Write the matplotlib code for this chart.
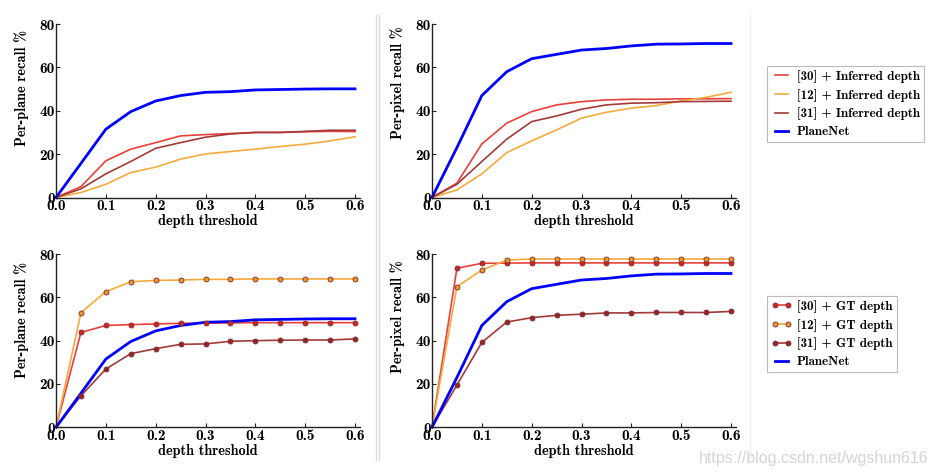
import matplotlib
matplotlib.use("Agg")
import matplotlib.pyplot as plt
from matplotlib.lines import Line2D

# depth thresholds shared by all four panels
thresholds = [0.0, 0.05, 0.1, 0.15, 0.2, 0.25, 0.3, 0.35, 0.4, 0.45, 0.5, 0.55, 0.6]

# per-plane recall, inferred depth
plane_30_inf = [0, 5.0, 16.9, 22.3, 25.3, 28.4, 29.0, 29.5, 30.0, 30.0, 30.3, 30.5, 30.4]
plane_12_inf = [0, 2.3, 6.1, 11.5, 14.0, 17.7, 20.1, 21.2, 22.3, 23.5, 24.6, 26.1, 28.0]
plane_31_inf = [0, 4.0, 10.9, 16.6, 22.7, 25.3, 27.8, 29.3, 30.0, 30.0, 30.5, 31.0, 31.0]
plane_planenet = [0, 15.7, 31.5, 39.6, 44.5, 47.0, 48.5, 48.8, 49.6, 49.8, 50.0, 50.1, 50.1]

# per-pixel recall, inferred depth
pixel_30_inf = [0, 6.6, 24.7, 34.3, 39.6, 42.7, 44.2, 45.0, 45.3, 45.3, 45.5, 45.5, 45.6]
pixel_12_inf = [0, 3.5, 10.9, 20.7, 26.1, 31.2, 36.6, 39.3, 41.2, 42.4, 44.5, 46.2, 48.5]
pixel_31_inf = [0, 6.1, 16.6, 26.9, 35.0, 37.6, 40.7, 42.7, 43.5, 43.7, 44.2, 44.3, 44.4]
pixel_planenet = [0, 23.0, 47.0, 58.0, 64.0, 66.0, 68.0, 68.7, 69.9, 70.7, 70.8, 71.0, 71.0]

# per-plane recall, GT depth
plane_30_gt = [0, 43.8, 47.0, 47.4, 47.7, 48.0, 48.1, 48.2, 48.3, 48.3, 48.3, 48.3, 48.3]
plane_12_gt = [0, 52.9, 62.6, 67.2, 67.8, 68.0, 68.3, 68.3, 68.5, 68.5, 68.5, 68.5, 68.5]
plane_31_gt = [0, 14.5, 26.9, 34.0, 36.3, 38.3, 38.5, 39.7, 40.0, 40.2, 40.3, 40.3, 40.8]

# per-pixel recall, GT depth
pixel_30_gt = [0, 73.4, 75.7, 75.8, 75.9, 75.9, 75.9, 75.9, 75.9, 75.9, 75.9, 75.9, 75.9]
pixel_12_gt = [0, 64.9, 72.6, 77.2, 77.7, 77.7, 77.7, 77.7, 77.7, 77.7, 77.7, 77.7, 77.7]
pixel_31_gt = [0, 19.5, 39.2, 48.6, 50.6, 51.7, 52.2, 52.8, 52.8, 53.0, 53.0, 53.0, 53.5]

RED, RED_M = "#e8403a", "#c62828"
ORANGE, ORANGE_M = "#f5aa3c", "#e09a30"
BROWN, BROWN_M = "#a23a3a", "#8a2a2a"
BLUE = "#0000ff"
FONT = "cmb10"
FS = 10.3

plt.rcParams["font.family"] = FONT
plt.rcParams["axes.unicode_minus"] = False

fig = plt.figure(figsize=(9.31, 4.76), dpi=100)
W, H = 931, 476


def make_ax(left_px, zero_px, top_px, ylabel, label_y):
    width = 304
    ax = fig.add_axes([left_px / W, 1 - zero_px / H, width / W, (zero_px - top_px) / H])
    ax.set_xlim(0, 0.61)
    ax.set_ylim(0, 80)
    ax.set_xticks([0.0, 0.1, 0.2, 0.3, 0.4, 0.5, 0.6])
    ax.set_xticklabels(["0.0", "0.1", "0.2", "0.3", "0.4", "0.5", "0.6"])
    ax.set_yticks([0, 20, 40, 60, 80])
    ax.set_yticklabels(["0", "20", "40", "60", "80"])
    for s in ["top", "right"]:
        ax.spines[s].set_visible(False)
    for s in ["left", "bottom"]:
        ax.spines[s].set_color("#222222")
        ax.spines[s].set_linewidth(1.0)
    ax.tick_params(direction="in", length=3, pad=1.0, labelsize=11, color="#222222")
    ax.set_xlabel("depth threshold", fontsize=FS, labelpad=1)
    ax.set_ylabel(ylabel, fontsize=FS)
    ax.yaxis.set_label_coords(-0.09, label_y)
    return ax


def plain(ax, y, color, lw=1.2):
    ax.plot(thresholds, y, color=color, lw=lw, clip_on=False)


def dotted(ax, y, color, mcolor):
    ax.plot(thresholds[1:], y[1:], "o", color=mcolor, mec=BROWN_M, mew=0.6, ms=3.6,
            clip_on=False, zorder=3)
    ax.plot(thresholds, y, color=color, lw=1.2, clip_on=False)


ax1 = make_ax(56, 197.5, 24, "Per-plane recall %", 0.63)
plain(ax1, plane_30_inf, RED)
plain(ax1, plane_12_inf, ORANGE)
plain(ax1, plane_31_inf, BROWN)
plain(ax1, plane_planenet, BLUE, lw=2)

ax2 = make_ax(432, 197.5, 24, "Per-pixel recall %", 0.66)
plain(ax2, pixel_30_inf, RED)
plain(ax2, pixel_12_inf, ORANGE)
plain(ax2, pixel_31_inf, BROWN)
plain(ax2, pixel_planenet, BLUE, lw=2)

ax3 = make_ax(56, 427.3, 254, "Per-plane recall %", 0.62)
dotted(ax3, plane_30_gt, RED, RED_M)
dotted(ax3, plane_12_gt, ORANGE, ORANGE_M)
dotted(ax3, plane_31_gt, BROWN, BROWN_M)
plain(ax3, plane_planenet, BLUE, lw=2)

ax4 = make_ax(432, 427.3, 254, "Per-pixel recall %", 0.64)
dotted(ax4, pixel_30_gt, RED, RED_M)
dotted(ax4, pixel_12_gt, ORANGE, ORANGE_M)
dotted(ax4, pixel_31_gt, BROWN, BROWN_M)
plain(ax4, pixel_planenet, BLUE, lw=2)

# legends
inf_handles = [
    Line2D([], [], color=RED, lw=1.2),
    Line2D([], [], color=ORANGE, lw=1.2),
    Line2D([], [], color=BROWN, lw=1.2),
    Line2D([], [], color=BLUE, lw=2),
]
inf_labels = ["[30] + Inferred depth", "[12] + Inferred depth",
              "[31] + Inferred depth", "PlaneNet"]
gt_handles = [
    Line2D([], [], color=RED, lw=1.2, marker="o", ms=3.6, mfc=RED_M, mec=BROWN_M, mew=0.6),
    Line2D([], [], color=ORANGE, lw=1.2, marker="o", ms=3.6, mfc=ORANGE_M, mec=BROWN_M, mew=0.6),
    Line2D([], [], color=BROWN, lw=1.2, marker="o", ms=3.6, mfc=BROWN_M, mec=BROWN_M, mew=0.6),
    Line2D([], [], color=BLUE, lw=2),
]
gt_labels = ["[30] + GT depth", "[12] + GT depth", "[31] + GT depth", "PlaneNet"]

for handles, labels, top in [(inf_handles, inf_labels, 66), (gt_handles, gt_labels, 296)]:
    leg = fig.legend(handles, labels, loc="upper left", bbox_to_anchor=(767 / W, 1 - top / H),
                     prop={"family": FONT, "size": 9.4}, numpoints=2, handlelength=1.6,
                     handletextpad=0.4, labelspacing=0.45, borderpad=0.3,
                     borderaxespad=0, fancybox=False, framealpha=1)
    leg.get_frame().set_edgecolor("#bbbbbb")
    leg.get_frame().set_linewidth(0.8)

# separator lines between panels
for x in [375.5, 379]:
    fig.add_artist(Line2D([x / W, x / W], [1 - 15 / H, 1 - 460 / H], color="#dddddd", lw=1))
fig.add_artist(Line2D([750 / W, 750 / W], [1 - 15 / H, 1 - 460 / H], color="#eeeeee", lw=1))

# blog watermark
fig.text(929 / W, 1 - 458 / H, "https://blog.csdn.net/wgshun616", ha="right", va="center",
         family="Liberation Sans", fontsize=11.5, color="#d4d4d4")

fig.savefig("out.png", dpi=100)
